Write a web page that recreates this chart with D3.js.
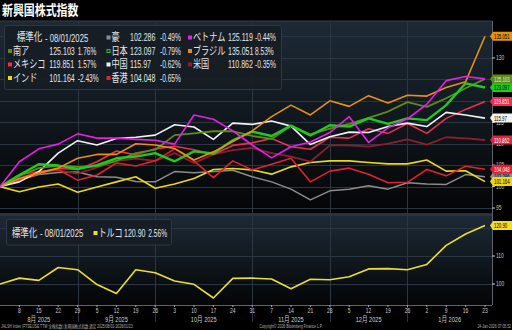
<!DOCTYPE html>
<html><head><meta charset="utf-8">
<script src="https://cdn.jsdelivr.net/npm/d3@7"></script>
<style>
html,body{margin:0;padding:0;background:#000;}
svg{display:block;}
</style></head><body>
<svg id="chart" width="512" height="330"></svg>
<script>
// Weekly closes, indexed to 100 on 08/01/2025
const dates = ["2025-08-01","2025-08-08","2025-08-15","2025-08-22","2025-08-29","2025-09-05","2025-09-12",
  "2025-09-19","2025-09-26","2025-10-03","2025-10-10","2025-10-17","2025-10-24","2025-10-31","2025-11-07",
  "2025-11-14","2025-11-21","2025-11-28","2025-12-05","2025-12-12","2025-12-19","2025-12-26","2026-01-02",
  "2026-01-09","2026-01-16","2026-01-23"];

const australia  = [100,101.5,102.8,103.3,103.4,102.3,102.2,101.2,101.1,103.5,103.2,103.5,103.8,102.3,101.1,99.4,96.9,99.0,99.4,100.2,99.4,100.9,100.6,100.5,102.79,102.286];
const vietnam    = [100,105.8,108.8,109.9,112.3,111.3,111.3,111.0,110.8,109.9,116.7,115.7,113.0,109.7,106.7,109.3,110.4,112.6,116.3,110.3,113.7,115.8,119.2,124.7,125.67,125.119];
const southAfrica= [100,102.5,104.3,104.9,104.6,104.7,106.0,107.8,108.6,112.0,112.4,112.9,112.9,111.8,111.1,114.2,112.2,113.5,114.6,116.0,117.5,119.7,118.6,120.6,122.94,125.103];
const japan      = [100,102.7,105.2,104.9,104.1,105.0,106.6,107.0,107.8,105.9,108.2,107.7,110.8,112.8,111.8,114.2,111.9,114.3,114.0,115.9,114.6,115.9,115.5,119.0,124.08,123.097];
const brazil     = [100,101.9,103.2,104.3,106.6,107.5,107.5,110.0,109.7,108.9,106.2,108.1,110.5,113.0,116.3,119.0,116.7,120.0,118.7,121.2,119.5,121.3,121.1,123.1,124.44,135.051];
const mexico     = [100,101.5,103.0,104.2,104.0,105.8,108.3,107.4,108.8,109.4,108.6,107.5,109.6,110.2,111.2,109.3,108.7,111.5,111.3,113.5,112.4,114.7,112.4,115.9,118.0,119.851];
const china      = [100,101.1,103.5,107.8,110.7,109.7,111.2,111.5,112.0,114.4,113.9,111.0,114.8,114.5,115.3,114.1,109.8,111.6,112.7,112.6,114.0,114.8,114.0,117.3,116.69,115.97];
const usa        = [100,102.0,103.5,103.8,103.0,104.5,106.0,106.5,106.0,107.8,105.5,107.5,108.5,109.0,107.8,107.0,105.8,109.6,109.6,109.3,110.0,111.0,109.8,111.5,111.25,110.862];
const india      = [100,98.8,99.9,100.6,98.7,99.9,101.1,102.3,99.6,100.6,101.9,104.0,104.2,103.9,102.9,104.6,105.6,106.0,106.0,105.6,105.3,105.3,106.2,103.6,103.68,101.164];
const hongKong   = [100,102.8,103.5,104.0,101.5,102.7,105.5,104.8,106.0,108.8,106.0,102.1,106.0,103.9,105.2,106.6,101.1,103.6,104.3,102.9,100.9,101.0,104.0,102.5,104.73,104.048];
const turkey     = [100,102.1,101.3,105.9,105.1,99.8,96.6,105.1,104.0,101.1,99.9,95.0,102.0,102.1,101.8,98.3,101.7,101.5,102.6,105.4,105.5,105.1,107.0,113.8,117.88,120.90];

const seriesNames  = ["豪","ベトナム","南ア","日本","ブラジル","メキシコ","中国","米国","インド","香港"];
const seriesValues = [australia,vietnam,southAfrica,japan,brazil,mexico,china,usa,india,hongKong];
const lastLabels   = ["102.286","125.119","125.103","123.097","135.051","119.851","115.97","110.862","101.164","104.048"];
const weekChange   = ["-0.49%","-0.44%","1.76%","-0.79%","8.53%","1.57%","-0.62%","-0.35%","-2.43%","-0.65%"];
const turkeyName = "トルコ", turkeyLabel = "120.90", turkeyChange = "2.56%";

// axis labels left visible beside the value tags
const upperTicks = [95,100,105,110,115,130];
const upperGrid = [95,100,105,110,115,120,125,130,135];
const lowerTicks = [100,110];
const lowerGrid = [100,110,120];
const monthLabels = ["8月 2025","9月 2025","10月 2025","11月 2025","12月 2025","1月 2026"];
const monthEnds = ["2025-08-29","2025-09-26","2025-10-31","2025-11-28","2025-12-26"];

// styling
const colors = ["#8c8c8c","#e81ee8","#5e8c12","#1ecb1e","#ea900c","#ee2d4f","#f2f2f2","#8e1e2e","#ecd914","#e4202c"];
const tagColors = ["#8c8c8c","#e81ee8","#5e8c12","#1ecb1e","#ea900c","#ee2d4f","#f2f2f2","#d8283c","#ecd914","#e4202c"];
const tagText = ["#000","#fff","#e8e8e8","#000","#000","#fff","#000","#fff","#000","#fff"];
const widths = [1.5,1.6,1.8,2.4,1.6,1.6,1.6,1.8,1.6,1.6];
const drawOrder = [0,8,7,9,5,6,2,3,4,1];
const tagOrder = [0,7,6,5,3,2,9,8,4];
const turkeyColor = "#ecdf2a";
const FONT = "'Liberation Sans','Noto Sans CJK JP',sans-serif";

const svg = d3.select("#chart");
const parse = d3.timeParse("%Y-%m-%d");
const T = dates.map(parse);

const plotR = 485, axisX = 492;
const up = {top: 21, bottom: 213}, lo = {top: 216, bottom: 305};
const x = d3.scaleTime().domain([T[0], T[T.length-1]]).range([0, plotR]);
const yU = d3.scaleLinear().domain([93.84,138.61]).range([up.bottom, up.top]);
const yL = d3.scaleLinear().domain([92.5,124.3]).range([lo.bottom, lo.top]);

// background
svg.append("rect").attr("width",512).attr("height",330).attr("fill","#000");
const defs = svg.append("defs");
function grad(id, y1, y2){
  const g = defs.append("linearGradient").attr("id",id).attr("gradientUnits","userSpaceOnUse")
    .attr("x1",0).attr("x2",0).attr("y1",y1).attr("y2",y2);
  g.append("stop").attr("offset",0).attr("stop-color","#1d2a36");
  g.append("stop").attr("offset",1).attr("stop-color","#040506");
}
grad("gu", up.top, up.bottom); grad("gl", lo.top, lo.bottom);
svg.append("rect").attr("x",0).attr("y",up.top).attr("width",axisX).attr("height",up.bottom-up.top).attr("fill","url(#gu)");
svg.append("rect").attr("x",0).attr("y",lo.top).attr("width",axisX).attr("height",lo.bottom-lo.top).attr("fill","url(#gl)");
svg.append("line").attr("x1",0).attr("x2",axisX).attr("y1",up.top).attr("y2",up.top).attr("stroke","#34404c").attr("stroke-width",1);
svg.append("rect").attr("x",0).attr("y",up.bottom).attr("width",axisX).attr("height",lo.top-up.bottom).attr("fill","#2a333c");

function txt(g, px, py, s, o={}){
  return g.append("text")
    .attr("transform", `translate(${px},${py}) scale(${o.sx ?? 0.7},1)`)
    .attr("font-family", FONT).attr("font-size", o.size ?? 11)
    .attr("font-weight", o.weight ?? "normal")
    .attr("fill", o.fill ?? "#e6e6e6")
    .attr("text-anchor", o.anchor ?? "start")
    .attr("dominant-baseline","central")
    .text(s);
}

// grid
const grid = svg.append("g").attr("stroke","#2b3641").attr("stroke-width",1);
upperGrid.forEach(v => grid.append("line").attr("x1",0).attr("x2",axisX).attr("y1",Math.round(yU(v))+0.5).attr("y2",Math.round(yU(v))+0.5));
lowerGrid.forEach(v => grid.append("line").attr("x1",0).attr("x2",axisX).attr("y1",Math.round(yL(v))+0.5).attr("y2",Math.round(yL(v))+0.5));
monthEnds.forEach(d => {
  const px = Math.round(x(parse(d)))+0.5;
  grid.append("line").attr("x1",px).attr("x2",px).attr("y1",up.top).attr("y2",322);
});

// lines
const lineU = d3.line().x((d,i)=>x(T[i])).y(d=>yU(d));
const lineL = d3.line().x((d,i)=>x(T[i])).y(d=>yL(d));
drawOrder.forEach(k => {
  svg.append("path").attr("d", lineU(seriesValues[k])).attr("fill","none")
    .attr("stroke", colors[k]).attr("stroke-width", widths[k]).attr("stroke-linejoin","round");
});
svg.append("path").attr("d", lineL(turkey)).attr("fill","none").attr("stroke",turkeyColor).attr("stroke-width",1.6).attr("stroke-linejoin","round");

// right axes
const ax = svg.append("g");
ax.append("line").attr("x1",axisX+0.5).attr("x2",axisX+0.5).attr("y1",up.top).attr("y2",lo.bottom).attr("stroke","#5a646e");
upperGrid.forEach(v => ax.append("line").attr("x1",axisX).attr("x2",axisX+3).attr("y1",yU(v)).attr("y2",yU(v)).attr("stroke","#ccc"));
lowerGrid.forEach(v => ax.append("line").attr("x1",axisX).attr("x2",axisX+3).attr("y1",yL(v)).attr("y2",yL(v)).attr("stroke","#ccc"));
upperTicks.forEach(v => txt(ax, axisX+4, yU(v), String(v), {size:7, sx:0.7, fill:"#c8c8c8"}));
lowerTicks.forEach(v => txt(ax, axisX+4, yL(v), String(v), {size:7, sx:0.7, fill:"#c8c8c8"}));

function tag(yv, label, bg, fg){
  const g = svg.append("g");
  g.append("path").attr("d", `M${axisX-2},${yv} L${axisX+1},${yv-4.5} H512 V${yv+4.5} H${axisX+1} Z`).attr("fill",bg);
  txt(g, axisX+2, yv+0.3, label, {size:7, sx:0.62, fill:fg});
}
tagOrder.forEach(k => tag(yU(seriesValues[k][seriesValues[k].length-1]), lastLabels[k], tagColors[k], tagText[k]));
tag(yL(turkey[turkey.length-1]), turkeyLabel, turkeyColor, "#000");

// upper legend
const lg = svg.append("g");
lg.append("rect").attr("x",4.5).attr("y",25.5).attr("width",277).attr("height",64).attr("rx",2)
  .attr("fill","#161d24").attr("fill-opacity",0.9).attr("stroke","#2e3842");
const rowY = [37.5,51,64.5,78];
const colX = [8,106.5,188];
txt(lg, 16.7, rowY[0], "標準化", {sx:0.78});
txt(lg, 45, rowY[0], "- 08/01/2025", {sx:0.7});
seriesNames.forEach((nm,k) => {
  const slot = k+1, r = Math.floor(slot/3), c = slot%3;
  const bx = colX[c], by = rowY[r];
  if (k === 3) lg.append("rect").attr("x",bx+0.5).attr("y",by-1.5).attr("width",3).attr("height",3).attr("fill","none").attr("stroke",colors[k]).attr("stroke-width",1);
  else lg.append("rect").attr("x",bx).attr("y",by-2).attr("width",4).attr("height",4).attr("fill",colors[k]);
  txt(lg, bx+5, by, nm, {sx:0.74});
  const vx = [49.3,130,228][c], px = [77.7,160,255][c];
  txt(lg, vx, by, lastLabels[k], {sx:0.64});
  txt(lg, px, by, weekChange[k], {sx:0.6});
});

// lower legend
const ll = svg.append("g");
ll.append("rect").attr("x",6.5).attr("y",219.5).attr("width",165).attr("height",25.5).attr("rx",2)
  .attr("fill","#161d24").attr("fill-opacity",0.9).attr("stroke","#2e3842");
txt(ll, 11.7, 233, "標準化", {sx:0.78});
txt(ll, 40, 233, "- 08/01/2025", {sx:0.7});
ll.append("rect").attr("x",93.5).attr("y",231).attr("width",4).attr("height",4).attr("fill",turkeyColor);
txt(ll, 98.5, 233, turkeyName, {sx:0.74});
txt(ll, 124, 233, turkeyLabel, {sx:0.64});
txt(ll, 148.3, 233, turkeyChange, {sx:0.6});

// bottom axis
const bx = svg.append("g");
bx.append("line").attr("x1",0).attr("x2",axisX).attr("y1",lo.bottom+0.5).attr("y2",lo.bottom+0.5).attr("stroke","#5a646e");
T.forEach((d,i) => {
  if (i === 0) return;
  bx.append("line").attr("x1",x(d)).attr("x2",x(d)).attr("y1",lo.bottom).attr("y2",lo.bottom+2).attr("stroke","#aaa");
  txt(bx, x(d), 310, d3.timeFormat("%-d")(d), {size:8, sx:0.62, fill:"#d0d0d0", anchor:"middle"});
});
const bounds = [0, ...monthEnds.map(d=>x(parse(d))), axisX];
monthLabels.forEach((m,i) => txt(bx, (bounds[i]+bounds[i+1])/2, 319, m, {size:8, sx:0.7, fill:"#d0d0d0", anchor:"middle"}));

// title & footer
txt(svg, 2, 10.5, "新興国株式指数", {size:14, sx:0.78, weight:"bold", fill:"#fff"});
txt(svg, 1, 326.5, "JALSH Index (FTSE/JSE TTW 全株指数) 新興国株式指数 週足 2025/08/01-2026/01/23", {size:4.6, sx:0.75, fill:"#b0b0b0"});
txt(svg, 291, 326.5, "Copyright© 2026 Bloomberg Finance L.P.", {size:4.6, sx:0.75, fill:"#b0b0b0", anchor:"middle"});
txt(svg, 511, 326.5, "24-Jan-2026 07:05:52", {size:4.6, sx:0.75, fill:"#b0b0b0", anchor:"end"});
</script>
</body></html>
